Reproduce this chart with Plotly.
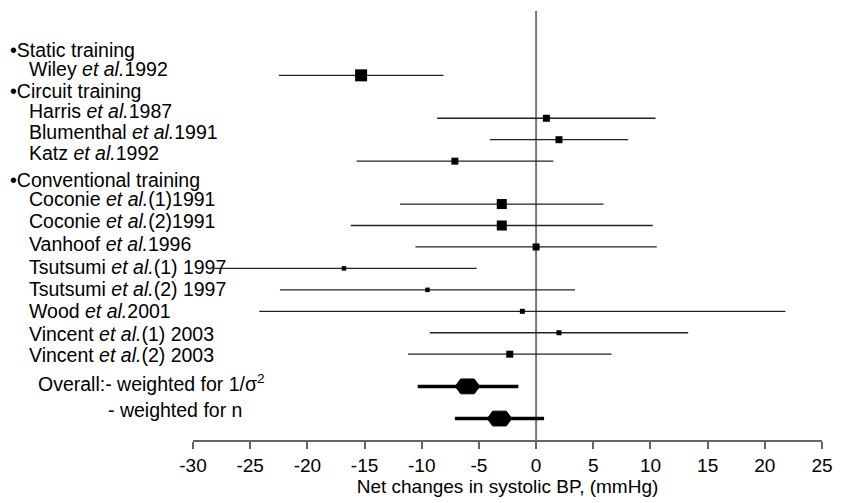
import plotly.graph_objects as go

# ---- data ----
studies = ["Wiley", "Harris", "Blumenthal", "Katz", "Coconie (1)", "Coconie (2)", "Vanhoof",
           "Tsutsumi (1)", "Tsutsumi (2)", "Wood", "Vincent (1)", "Vincent (2)"]
study_rows = [0, 2, 3, 4, 6, 7, 8, 9, 10, 11, 12, 13]
estimate = [-15.3, 0.9, 2.0, -7.1, -3.0, -3.0, 0.0, -16.8, -9.5, -1.2, 2.0, -2.3]
ci_low = [-22.5, -8.65, -4.05, -15.7, -11.9, -16.2, -10.55, -28.1, -22.4, -24.2, -9.3, -11.2]
ci_high = [-8.1, 10.45, 8.05, 1.5, 5.9, 10.2, 10.55, -5.2, 3.4, 21.8, 13.3, 6.6]
weight_px = [12, 7, 7, 7, 10, 10, 7, 4.5, 4.5, 5, 5, 7]

overall_labels = ["weighted for 1/σ²", "weighted for n"]
overall_rows = [14.5, 16]
overall_est = [-6.0, -3.2]
overall_low = [-10.35, -7.1]
overall_high = [-1.55, 0.7]

labels = [
    "•Static training",
    "Wiley <i>et al.</i>1992",
    "•Circuit training",
    "Harris <i>et al.</i>1987",
    "Blumenthal <i>et al.</i>1991",
    "Katz <i>et al.</i>1992",
    "•Conventional training",
    "Coconie <i>et al.</i>(1)1991",
    "Coconie <i>et al.</i>(2)1991",
    "Vanhoof <i>et al.</i>1996",
    "Tsutsumi<i> et al.</i>(1) 1997",
    "Tsutsumi<i> et al.</i>(2) 1997",
    "Wood <i>et al.</i>2001",
    "Vincent <i>et al.</i>(1) 2003",
    "Vincent <i>et al.</i>(2) 2003",
    "Overall:- weighted for 1/σ<sup>2</sup>",
    "- weighted for n",
]
x_ticks = [-30, -25, -20, -15, -10, -5, 0, 5, 10, 15, 20, 25]

# ---- layout helpers (positions only) ----
W, H = 843, 503
PL, PR = 193, 833          # plot left / right in px
PT, PB = 11, 445           # plot top / bottom in px
label_rows = [-1.2, -0.28, 0.72, 1.66, 2.63, 3.6, 4.86, 5.75, 6.8, 7.87, 8.94, 9.94,
              10.97, 12.04, 13.06, 14.33, 15.62]
label_x_px = [5, 24, 5, 24, 24, 24, 5, 24, 24, 24, 24, 24, 24, 24, 24, 33, 104]

FONT = "Liberation Sans, Arial, sans-serif"
FS = 19
FS_LAB = 19.5
fig = go.Figure()

# zero line
fig.add_shape(type="line", x0=0, x1=0, y0=-3.0, y1=17.0, xref="x", yref="y",
              line=dict(color="#777777", width=2), layer="below")

# study CI lines
for r, lo, hi in zip(study_rows, ci_low, ci_high):
    fig.add_trace(go.Scatter(x=[lo, hi], y=[r, r], mode="lines",
                             line=dict(color="#222222", width=1.3),
                             hoverinfo="skip", showlegend=False))
# study squares
fig.add_trace(go.Scatter(x=estimate, y=study_rows, mode="markers",
                         marker=dict(symbol="square", size=weight_px, color="black",
                                     opacity=1, line=dict(width=0)),
                         text=studies, showlegend=False))

# overall lines + hexagons
px_per_x = (PR - PL) / 55.0
px_per_row = 21.7
hw = 12.5 / px_per_x
hh = 7.5 / px_per_row
for r, e, lo, hi in zip(overall_rows, overall_est, overall_low, overall_high):
    fig.add_trace(go.Scatter(x=[lo, hi], y=[r, r], mode="lines",
                             line=dict(color="black", width=3.5),
                             hoverinfo="skip", showlegend=False))
    xs = [e - hw, e - 0.55 * hw, e + 0.55 * hw, e + hw, e + 0.55 * hw, e - 0.55 * hw, e - hw]
    ys = [r, r - hh, r - hh, r, r + hh, r + hh, r]
    fig.add_trace(go.Scatter(x=xs, y=ys, mode="lines", fill="toself", fillcolor="black",
                             line=dict(color="black", width=1),
                             hoverinfo="skip", showlegend=False))

# labels
for txt, r, xp in zip(labels, label_rows, label_x_px):
    fig.add_annotation(text=txt, x=(xp - PL) / (PR - PL), xref="paper", y=r, yref="y",
                       xanchor="left", yanchor="middle", showarrow=False,
                       font=dict(family=FONT, size=FS_LAB, color="black"))

fig.update_layout(
    width=W, height=H, autosize=False,
    margin=dict(l=PL, r=W - PR, t=PT, b=H - PB),
    paper_bgcolor="white", plot_bgcolor="white",
    font=dict(family=FONT, size=FS, color="black"),
    xaxis=dict(range=[-30, 25], tickvals=x_ticks, ticktext=[str(v) for v in x_ticks],
               showgrid=False, zeroline=False, showline=True, linecolor="#666666",
               linewidth=2, ticks="outside", ticklen=7, tickwidth=2, tickcolor="#666666",
               ticklabeloverflow="allow",
               tickfont=dict(family=FONT, size=FS, color="black"),
               title=dict(text="Net changes in systolic BP, (mmHg)", standoff=4,
                          font=dict(family=FONT, size=FS, color="black"))),
    yaxis=dict(range=[17.0, -3.0], visible=False, showgrid=False, zeroline=False),
)

fig.write_html("out.html", config={"displayModeBar": False, "responsive": False},
               post_script="document.documentElement.style.overflow='hidden';"
                           "document.body.style.overflow='hidden';"
                           "document.body.style.margin='0';")
